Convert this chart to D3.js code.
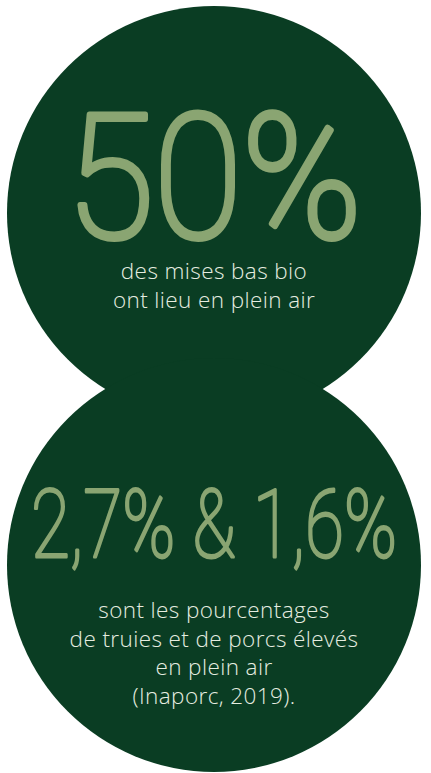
<!DOCTYPE html>
<html>
<head>
<meta charset="utf-8">
<script src="https://cdn.jsdelivr.net/npm/d3@7"></script>
<style>
  html, body { margin: 0; padding: 0; background: #fff; }
  svg { display: block; }
</style>
</head>
<body>
<div id="chart"></div>
<script>
const WIDTH = 431
const HEIGHT = 773

// the two figures, one per circle
const blocks = ["top", "bottom"]
const headlines = ["50%", "2,7% & 1,6%"]
const captions = [
    ["des mises bas bio", "ont lieu en plein air"],
    ["sont les pourcentages", "de truies et de porcs élevés", "en plein air", "(Inaporc, 2019)."]
]

const darkGreen = "#0a3d23"
const lightGreen = "#8aa572"
const captionColor = "#e6ede0"

const svg = d3.select("#chart")
    .append("svg")
    .attr("width", WIDTH)
    .attr("height", HEIGHT)

const yScale = d3.scalePoint()
    .domain(blocks)
    .range([213, 565])

const radius = 207
const cx = 214

svg.append("g")
    .selectAll("circle")
    .data(blocks)
    .join("circle")
    .attr("cx", cx)
    .attr("cy", (d) => yScale(d))
    .attr("r", radius)
    .attr("fill", darkGreen)

// big handwritten numbers, squeezed to the width they take in the picture
const headStyle = [
    { dy: 24, size: 172, width: 296, stroke: 6 },
    { dy: -8, size: 94, width: 366, stroke: 3 }
]

const heads = svg.append("g")
    .selectAll("g")
    .data(blocks)
    .join("g")

heads.append("text")
    .attr("text-anchor", "middle")
    .attr("font-family", "Roboto")
    .attr("font-weight", 100)
    .attr("font-size", (d, i) => headStyle[i].size)
    .attr("fill", lightGreen)
    .attr("stroke", lightGreen)
    .attr("stroke-width", (d, i) => headStyle[i].stroke)
    .attr("stroke-linejoin", "round")
    .text((d, i) => headlines[i])

heads.attr("transform", function (d, i) {
    const w = d3.select(this).select("text").node().getComputedTextLength()
    const sx = headStyle[i].width / w
    return `translate(${cx}, ${yScale(d) + headStyle[i].dy}) scale(${sx}, 1)`
})

// captions
const captionTop = [66, 53]
const lineHeight = 28.5

blocks.forEach((b, i) => {
    svg.append("g")
        .selectAll("text")
        .data(captions[i])
        .join("text")
        .attr("x", cx)
        .attr("y", (d, j) => yScale(b) + captionTop[i] + j * lineHeight)
        .attr("text-anchor", "middle")
        .attr("font-family", "Open Sans")
        .attr("font-weight", 300)
        .attr("font-size", 22.5)
        .attr("letter-spacing", 0.4)
        .attr("fill", captionColor)
        .text((d) => d)
})
</script>
</body>
</html>
